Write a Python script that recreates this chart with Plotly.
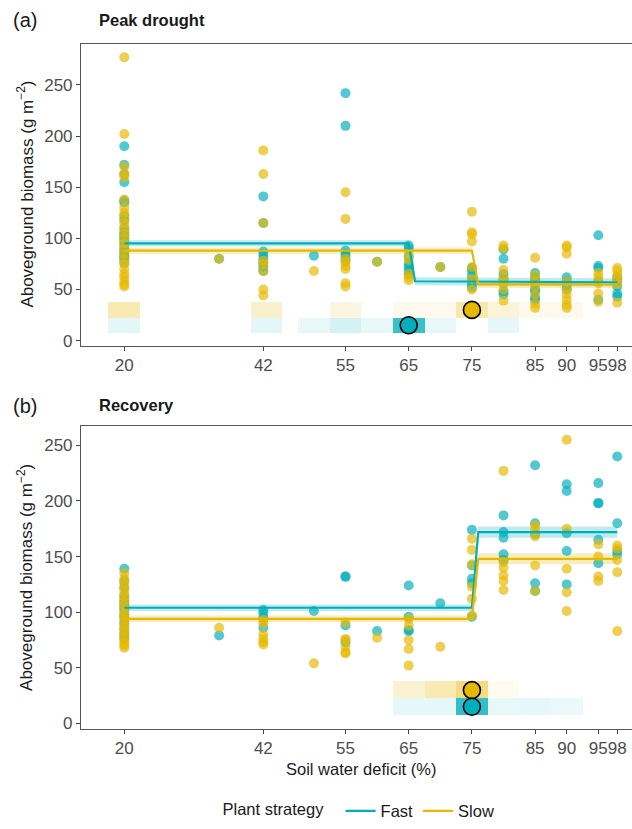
import plotly.graph_objects as go

W, H = 632, 829
FAST, SLOW = "#00AFBB", "#E7B800"
FONT = "Liberation Sans, Arial, sans-serif"

# ---------------- data ----------------
deficit_ticks = [20, 42, 55, 65, 75, 85, 90, 95, 98]

drought_fast = {20: [190, 172, 163, 155, 137, 135, 122, 118, 110, 106, 103, 100, 97, 94, 90, 87, 84, 82, 80, 76],
                35: [80], 42: [141, 115, 87, 84, 80, 76, 72, 68], 50: [83],
                55: [242, 210, 88, 85, 82, 78], 60: [77], 65: [93, 90, 82, 75, 72, 68, 65], 70: [72],
                75: [71, 68, 63, 59, 55, 52], 80: [89, 80, 65, 60, 56, 48, 45],
                85: [66, 62, 58, 56, 50, 48, 42, 40], 90: [62, 58, 54, 50],
                95: [103, 73, 71, 58, 40], 98: [62, 58, 53, 46, 43]}
drought_slow = {20: [277, 202, 170, 163, 160, 138, 130, 125, 120, 115, 110, 105, 100, 95, 90, 85, 80, 75, 70, 65, 62, 58, 55, 53],
                35: [80], 42: [186, 163, 115, 78, 75, 68, 50, 44], 50: [68],
                55: [145, 119, 80, 77, 73, 70, 56, 53], 60: [77], 65: [85, 79, 65, 62, 59], 70: [72],
                75: [126, 106, 104, 97, 72, 60, 50], 80: [93, 90, 69, 62, 57, 50, 39],
                85: [81, 64, 58, 53, 45, 36, 32], 90: [93, 91, 85, 58, 50, 45, 40, 35, 32],
                95: [66, 62, 56, 46, 38], 98: [71, 68, 64, 60, 55, 37]}
recovery_fast = {20: [139, 128, 122, 115, 111, 108, 105, 102, 98, 95, 90, 85, 80, 76],
                 35: [79], 42: [102, 99, 95, 86], 50: [101], 55: [132, 132, 88, 73], 60: [83],
                 65: [124, 96, 84, 83], 70: [108], 75: [174, 142, 130, 126, 96],
                 80: [187, 172, 167, 152, 147], 85: [232, 180, 170, 126, 119],
                 90: [215, 209, 171, 155, 125], 95: [216, 198, 198, 165, 144], 98: [240, 180, 155, 152]}
recovery_slow = {20: [135, 130, 126, 122, 118, 114, 110, 106, 102, 98, 95, 92, 88, 85, 82, 78, 75, 72, 70, 68],
                 35: [86], 42: [93, 90, 80, 76, 73, 71], 50: [54], 55: [91, 76, 75, 69, 64, 63], 60: [77],
                 65: [94, 88, 75, 67, 52], 70: [69], 75: [166, 156, 143, 123, 112, 97],
                 80: [227, 145, 140, 133, 128, 120], 85: [178, 174, 168, 142, 119],
                 90: [255, 175, 139, 118, 101], 95: [161, 150, 132, 128], 98: [160, 157, 147, 136, 83]}

# fitted step (breakpoint) models and their CI half-widths
fit_x_drought_fast = [20, 65, 66, 98]
fit_y_drought_fast = [95, 95, 58, 57]
fit_ci_drought_fast = [3, 3, 4, 4]
fit_x_drought_slow = [20, 75, 76, 98]
fit_y_drought_slow = [88, 88, 55, 55]
fit_ci_drought_slow = [3, 3, 3.5, 3.5]
fit_x_recovery_fast = [20, 75, 76, 98]
fit_y_recovery_fast = [104, 104, 172, 172]
fit_ci_recovery_fast = [3, 3, 5, 5]
fit_x_recovery_slow = [20, 75, 76, 98]
fit_y_recovery_slow = [94, 94, 148, 148]
fit_ci_recovery_slow = [3, 3, 5, 5]

# breakpoint estimates
bp_drought = {"Fast": 65, "Slow": 75}
bp_recovery = {"Fast": 75, "Slow": 75}
bp_row_y = {"Fast": 15, "Slow": 30}

# breakpoint posterior density tiles (bin centres and relative density)
tile_drought_fast_x = [20, 42.5, 50, 55, 60, 65, 70, 80]
tile_drought_fast_d = [0.11, 0.11, 0.09, 0.17, 0.09, 0.78, 0.09, 0.1]
tile_drought_slow_x = [20, 42.5, 55, 65, 70, 75, 80, 85, 90]
tile_drought_slow_d = [0.3, 0.2, 0.12, 0.07, 0.07, 0.32, 0.15, 0.07, 0.07]
tile_recovery_fast_x = [65, 70, 75, 80, 85, 90]
tile_recovery_fast_d = [0.1, 0.1, 0.8, 0.09, 0.1, 0.08]
tile_recovery_slow_x = [65, 70, 75, 80]
tile_recovery_slow_d = [0.18, 0.3, 0.5, 0.06]

# ---------------- figure ----------------
fig = go.Figure()


def px_x(p):
    return p / W


def px_y(p):
    return 1 - p / H


def flat(d):
    xs, ys = [], []
    for k, v in d.items():
        xs += [k] * len(v)
        ys += v
    return xs, ys


def add_panel(xa, ya, pts_fast, pts_slow, fits, tiles, bps, show_legend):
    # tiles
    for (tx, td, col, name) in tiles:
        base = bp_row_y[name] - 7.5
        fig.add_trace(go.Bar(x=tx, y=[15] * len(tx), base=[base] * len(tx), width=[5] * len(tx),
                             marker=dict(color=col, opacity=td, line=dict(width=0)),
                             xaxis=xa, yaxis=ya, showlegend=False, hoverinfo="skip"))
    # ribbons
    for (fx, fy, fc, col, name) in fits:
        lo = [y - c for y, c in zip(fy, fc)]
        hi = [y + c for y, c in zip(fy, fc)]
        fig.add_trace(go.Scatter(x=fx + fx[::-1], y=hi + lo[::-1], fill="toself", fillcolor=col,
                                 opacity=0.25, line=dict(width=0), mode="lines",
                                 xaxis=xa, yaxis=ya, showlegend=False, hoverinfo="skip"))
    # points
    for d, col in ((pts_fast, FAST), (pts_slow, SLOW)):
        xs, ys = flat(d)
        fig.add_trace(go.Scatter(x=xs, y=ys, mode="markers",
                                 marker=dict(size=10, color=col, opacity=0.68, line=dict(width=0)),
                                 xaxis=xa, yaxis=ya, showlegend=False))
    # fitted lines
    for (fx, fy, fc, col, name) in fits:
        fig.add_trace(go.Scatter(x=fx, y=fy, mode="lines", line=dict(color=col, width=2.2),
                                 name=name, legendgroup=name, showlegend=show_legend,
                                 xaxis=xa, yaxis=ya))
    # breakpoint estimates
    for name, col in (("Slow", SLOW), ("Fast", FAST)):
        fig.add_trace(go.Scatter(x=[bps[name]], y=[bp_row_y[name]], mode="markers",
                                 marker=dict(size=17, color=col, line=dict(color="black", width=1.6)),
                                 xaxis=xa, yaxis=ya, showlegend=False))


add_panel("x", "y", drought_fast, drought_slow,
          [(fit_x_drought_fast, fit_y_drought_fast, fit_ci_drought_fast, FAST, "Fast"),
           (fit_x_drought_slow, fit_y_drought_slow, fit_ci_drought_slow, SLOW, "Slow")],
          [(tile_drought_fast_x, tile_drought_fast_d, FAST, "Fast"),
           (tile_drought_slow_x, tile_drought_slow_d, SLOW, "Slow")],
          bp_drought, True)
add_panel("x2", "y2", recovery_fast, recovery_slow,
          [(fit_x_recovery_fast, fit_y_recovery_fast, fit_ci_recovery_fast, FAST, "Fast"),
           (fit_x_recovery_slow, fit_y_recovery_slow, fit_ci_recovery_slow, SLOW, "Slow")],
          [(tile_recovery_fast_x, tile_recovery_fast_d, FAST, "Fast"),
           (tile_recovery_slow_x, tile_recovery_slow_d, SLOW, "Slow")],
          bp_recovery, False)

XR = [13.15, 100.33]
FS = 17
axis_common = dict(showgrid=False, zeroline=False, showline=True, linecolor="#555555", linewidth=1.1,
                   mirror=True, ticks="outside", ticklen=4, tickwidth=1.1, tickcolor="#444444",
                   tickfont=dict(size=FS, color="#4D4D4D", family=FONT))

fig.update_layout(
    width=W, height=H, margin=dict(l=0, r=0, t=0, b=0),
    paper_bgcolor="white", plot_bgcolor="white", barmode="overlay", bargap=0,
    font=dict(family=FONT, color="#1A1A1A"),
    xaxis=dict(domain=[px_x(81), 1], range=XR, anchor="y", tickvals=deficit_ticks, tickangle=0, **axis_common),
    yaxis=dict(domain=[px_y(350), px_y(44.3)], range=[-5.1, 290.3], anchor="x",
               tickvals=[0, 50, 100, 150, 200, 250], **axis_common),
    xaxis2=dict(domain=[px_x(81), 1], range=XR, anchor="y2", tickvals=deficit_ticks, tickangle=0, **axis_common),
    yaxis2=dict(domain=[px_y(737.7), px_y(431.7)], range=[-4.8, 266.9], anchor="x2",
                tickvals=[0, 50, 100, 150, 200, 250], **axis_common),
    legend=dict(orientation="h", x=px_x(360), xanchor="center", y=px_y(821), yanchor="middle",
                font=dict(size=16.5, family=FONT, color="#1A1A1A"), itemwidth=30,
                title=dict(text="Plant strategy  ", side="left", font=dict(size=16.5, family=FONT))),
    showlegend=True,
)

ann = [
    dict(text="(a)", x=px_x(11), y=px_y(20), xanchor="left", yanchor="middle", font=dict(size=20)),
    dict(text="<b>Peak drought</b>", x=px_x(97), y=px_y(20), xanchor="left", yanchor="middle", font=dict(size=16.5)),
    dict(text="(b)", x=px_x(11), y=px_y(411), xanchor="left", yanchor="middle", font=dict(size=20)),
    dict(text="<b>Recovery</b>", x=px_x(97), y=px_y(410), xanchor="left", yanchor="middle", font=dict(size=16.5)),
    dict(text="Aboveground biomass (g m<sup>−2</sup>)", x=px_x(25), y=px_y(197), textangle=-90,
         xanchor="center", yanchor="middle", font=dict(size=FS)),
    dict(text="Aboveground biomass (g m<sup>−2</sup>)", x=px_x(25), y=px_y(585), textangle=-90,
         xanchor="center", yanchor="middle", font=dict(size=FS)),
    dict(text="Soil water deficit (%)", x=px_x(361), y=px_y(778), xanchor="center", yanchor="middle",
         font=dict(size=16.5)),
]
for a in ann:
    a.update(xref="paper", yref="paper", showarrow=False)
    a["font"].setdefault("family", FONT)
    a["font"].setdefault("color", "#1A1A1A")
fig.update_layout(annotations=ann)

fig.write_html("out.html")
